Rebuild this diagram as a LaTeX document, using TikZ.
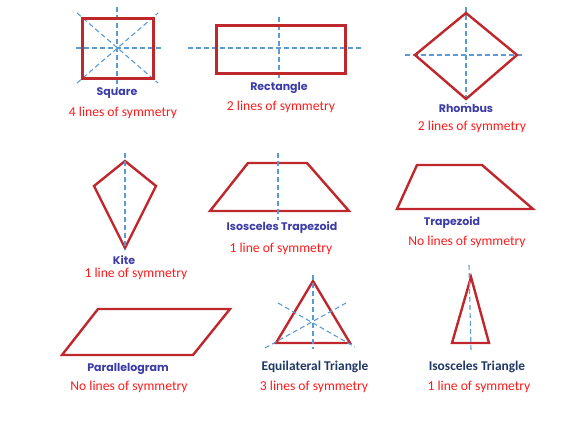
\documentclass[tikz,border=0pt]{standalone}
\usepackage{fontspec}
\setmainfont{Carlito}
\newfontfamily\comicfont{Poppins}
\usetikzlibrary{positioning}
\definecolor{shapered}{HTML}{C0272D}
\definecolor{symblue}{HTML}{5B9BD5}
\definecolor{textred}{HTML}{FF1A1A}
\definecolor{namepurple}{HTML}{3C3CA6}
\definecolor{namenavy}{HTML}{1F3864}
\tikzset{
  shapeline/.style={
    draw=shapered,
    line width=2.4pt,
    line join=miter
  },
  thickline/.style={
    shapeline,
    line width=3pt
  },
  symline/.style={
    draw=symblue,
    line width=1.1pt,
    dash pattern=on 5pt off 3pt
  },
  namelabel/.style={
    text=namepurple,
    inner sep=0pt,
    font=\comicfont\bfseries\fontsize{11}{12}\selectfont
  },
  navylabel/.style={
    text=namenavy,
    inner sep=1pt,
    font=\bfseries\fontsize{13.4}{15}\selectfont
  },
  countlabel/.style={
    text=textred,
    inner sep=0pt,
    font=\fontsize{13.6}{16}\selectfont
  }
}

\begin{document}
\begin{tikzpicture}[x=1pt, y=-1pt]
  \useasboundingbox (0,0) rectangle (581,421);
  % top row
  \draw[symline] (117,7) -- (117,90);
  \draw[symline] (76,48) -- (163,48);
  \draw[symline] (77,13) -- (158,83);
  \draw[symline] (77,83) -- (158,13);
  \draw[thickline] (82,18) rectangle (153,78);
  \node[namelabel] (square) at (117,93) {Square};
  \node[countlabel] (squarecount) at (123,113) {4 lines of symmetry};

  \draw[symline] (279,17) -- (279,80);
  \draw[symline] (188,48) -- (363,48);
  \draw[thickline] (216,25) rectangle (345,73);
  \node[namelabel] (rectangle) at (279,88) {Rectangle};
  \node[countlabel] (rectanglecount) at (281,107) {2 lines of symmetry};

  \draw[symline] (466,7) -- (466,104);
  \draw[symline] (405,55) -- (524,55);
  \draw[shapeline] (466,13) -- (517,55) -- (466,99) -- (415,55) -- cycle;
  \node[namelabel] (rhombus) at (466,108) {Rhombus};
  \node[countlabel] (rhombuscount) at (472,127) {2 lines of symmetry};

  % middle row
  \draw[shapeline] (125,161) -- (156,186) -- (125,248) -- (94,186) -- cycle;
  \draw[symline] (125,153) -- (125,250);
  \node[namelabel] (kite) at (124,260) {Kite};
  \node[countlabel] (kitecount) at (136,274) {1 line of symmetry};

  \draw[shapeline] (210,211) -- (349,211) -- (307,163) -- (248,163) -- cycle;
  \draw[symline] (278,153) -- (278,220);
  \node[namelabel] (isotrap) at (282,228) {Isosceles~Trapezoid};
  \node[countlabel] (isotrapcount) at (281,249) {1 line of symmetry};

  \draw[shapeline] (397,209) -- (533,209) -- (482,165) -- (417,165) -- cycle;
  \node[namelabel] (trapezoid) at (452,223) {Trapezoid};
  \node[countlabel] (trapezoidcount) at (467,242) {No lines of symmetry};

  % bottom row
  \draw[shapeline] (62,355) -- (98,309) -- (230,309) -- (193,355) -- cycle;
  \node[namelabel] (parallelogram) at (128,369) {Parallelogram};
  \node[countlabel] (parallelogramcount) at (129,387) {No lines of symmetry};

  \draw[shapeline] (313,281) -- (350,343) -- (276,343) -- cycle;
  \draw[symline] (313,275) -- (313,349);
  \draw[symline] (265,348) -- (346,303);
  \draw[symline] (278,303) -- (355,347);
  \node[navylabel] (equitri) at (315,367) {Equilateral Triangle};
  \node[countlabel] (equitricount) at (314,387) {3 lines of symmetry};

  \draw[shapeline] (471,277) -- (489,343) -- (452,343) -- cycle;
  \draw[symline] (469,265) -- (471,350);
  \node[navylabel] (isotri) at (477,367) {Isosceles Triangle};
  \node[countlabel] (isotricount) at (479,387) {1 line of symmetry};
\end{tikzpicture}
\end{document}
